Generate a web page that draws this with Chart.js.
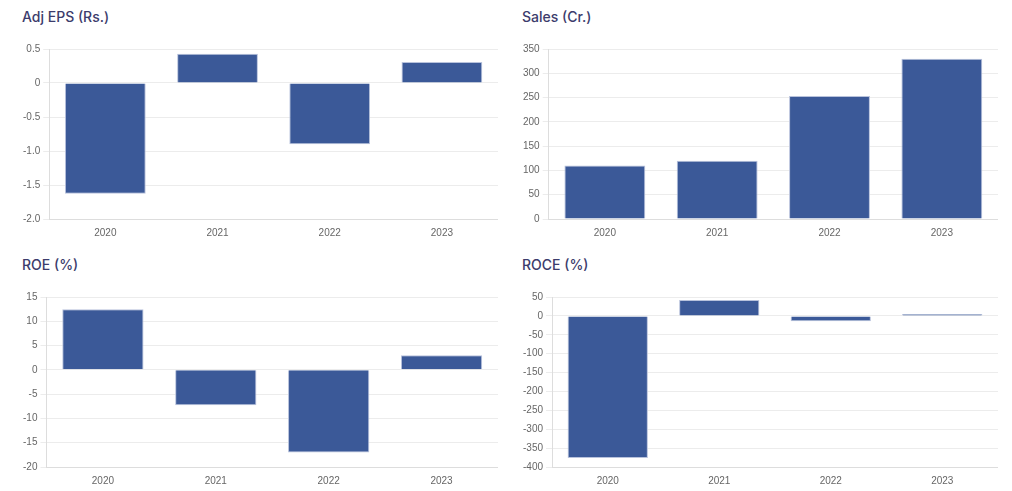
<!DOCTYPE html>
<html lang="en">
<head>
<meta charset="UTF-8">
<title>Financials</title>
<script src="https://cdn.jsdelivr.net/npm/chart.js"></script>
<style>
    body { margin: 0; background: #fff; font-family: Inter, sans-serif; }
    .card { position: absolute; width: 478px; height: 248px; }
    .card h3 { position: absolute; left: 2px; top: 8px; margin: 0; font-size: 14px; font-weight: 500; color: #3c3c6c; }
    .card .box { position: absolute; left: 0; top: 40px; width: 478px; height: 199px; }
</style>
</head>
<body>
    <div class="card" style="left:20px; top:0px;"><h3>Adj EPS (Rs.)</h3><div class="box"><canvas id="eps"></canvas></div></div>
    <div class="card" style="left:520px; top:0px;"><h3>Sales (Cr.)</h3><div class="box"><canvas id="sales"></canvas></div></div>
    <div class="card" style="left:20px; top:248px;"><h3>ROE (%)</h3><div class="box"><canvas id="roe"></canvas></div></div>
    <div class="card" style="left:520px; top:248px;"><h3>ROCE (%)</h3><div class="box"><canvas id="roce"></canvas></div></div>

<script>
    const years = ['2020', '2021', '2022', '2023'];

    const epsValues = [-1.63, 0.43, -0.90, 0.31];
    const salesValues = [110, 120, 253, 330];
    const roeValues = [12.5, -7.3, -17, 3];
    const roceValues = [-376, 42, -14, 5];

    const epsTicks = [0.5, 0, -0.5, -1.0, -1.5, -2.0];
    const salesTicks = [350, 300, 250, 200, 150, 100, 50, 0];
    const roeTicks = [15, 10, 5, 0, -5, -10, -15, -20];
    const roceTicks = [50, 0, -50, -100, -150, -200, -250, -300, -350, -400];

    Chart.defaults.font.family = "'Liberation Sans', Arial, sans-serif";
    Chart.defaults.font.size = 10;
    Chart.defaults.color = '#666';

    function makeChart(id, values, ticks, decimals) {
        const ctx = document.getElementById(id).getContext('2d');
        return new Chart(ctx, {
            type: 'bar',
            data: {
                labels: years,
                datasets: [{
                    data: values,
                    backgroundColor: '#3b5998',
                    borderColor: '#b8c2dc',
                    borderWidth: 1
                }]
            },
            options: {
                responsive: true,
                maintainAspectRatio: false,
                animation: false,
                plugins: { legend: { display: false }, tooltip: { enabled: false } },
                scales: {
                    x: {
                        grid: { display: false },
                        border: { color: '#ddd' },
                        ticks: { padding: 0 }
                    },
                    y: {
                        min: Math.min(...ticks),
                        max: Math.max(...ticks),
                        ticks: {
                            stepSize: Math.abs(ticks[0] - ticks[1]),
                            padding: 3,
                            callback: v => (v === 0 ? '0' : v.toFixed(decimals))
                        },
                        grid: { color: '#ececec', tickLength: 6 },
                        border: { color: '#ddd' }
                    }
                }
            }
        });
    }

    makeChart('eps', epsValues, epsTicks, 1);
    makeChart('sales', salesValues, salesTicks, 0);
    makeChart('roe', roeValues, roeTicks, 0);
    makeChart('roce', roceValues, roceTicks, 0);
</script>
</body>
</html>
